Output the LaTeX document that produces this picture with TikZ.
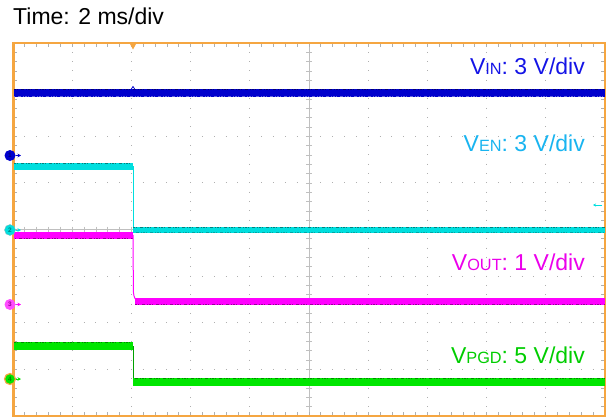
\documentclass[tikz,border=0pt]{standalone}
\usepackage{fontspec}
\setmainfont{Liberation Sans}
\usetikzlibrary{arrows.meta}

\definecolor{scopeorange}{RGB}{245,166,65}
\definecolor{griddot}{RGB}{175,175,175}
\definecolor{vinblue}{RGB}{0,0,205}
\definecolor{vindark}{RGB}{0,0,120}
\definecolor{vinlab}{RGB}{20,20,230}
\definecolor{vencyan}{RGB}{0,222,222}
\definecolor{vendark}{RGB}{0,128,128}
\definecolor{venlab}{RGB}{25,180,240}
\definecolor{voutmag}{RGB}{255,0,255}
\definecolor{voutdark}{RGB}{150,0,150}
\definecolor{voutlab}{RGB}{235,0,235}
\definecolor{vpgdgreen}{RGB}{0,230,0}
\definecolor{vpgddark}{RGB}{0,140,0}
\definecolor{vpgdlab}{RGB}{0,205,0}

\newcommand{\subtxt}[1]{{\fontsize{16.3}{18}\selectfont #1}}

\tikzset{
  gridtick/.style={griddot, line width=0.7pt},
  centerline/.style={griddot!80!white, line width=0.7pt},
  noise/.style={line width=1pt, dash pattern=on 2pt off 1pt on 1pt off 3pt on 3pt off 2pt on 1pt off 1pt},
}

\begin{document}
\begin{tikzpicture}[x=1pt, y=-1pt,
    trace/.style={line width=0.8pt},
    label/.style={anchor=base east, inner sep=0pt, font=\fontsize{23}{27}\selectfont},
    chmark/.style={circle, inner sep=0pt, minimum size=11pt, font=\fontsize{6.5}{6.5}\selectfont\bfseries},
    marktip/.style={line width=0.9pt, -{Stealth[length=3.5pt,width=3.5pt]}}]

    \useasboundingbox (0,0) rectangle (609,417);

    % draw dotted graticule
    \foreach \i in {1,...,9}
        \draw[griddot, line width=1pt, dash pattern=on 1pt off 8.325pt, dash phase=0.5pt] (13+\i*59.2,43) -- (13+\i*59.2,416);
    \foreach \j in {1,...,7}
        \draw[griddot, line width=1pt, dash pattern=on 1pt off 10.84pt, dash phase=0.5pt] (13,43+\j*46.625) -- (605,43+\j*46.625);

    % draw center lines with minor ticks
    \draw[centerline] (309,43) -- (309,416);
    \draw[centerline] (13,229.5) -- (605,229.5);
    \foreach \j in {1,...,39}
        \draw[centerline] (306,43+\j*9.325) -- (312,43+\j*9.325);
    \foreach \i in {1,...,49}
        \draw[centerline] (13+\i*11.84,226.5) -- (13+\i*11.84,232.5);

    % draw ticks along the frame
    \foreach \i in {1,...,49} {
        \draw[gridtick] (13+\i*11.84,43) -- ++(0,4);
        \draw[gridtick] (13+\i*11.84,416) -- ++(0,-4);
    }
    \foreach \j in {1,...,39} {
        \draw[gridtick] (13,43+\j*9.325) -- ++(4,0);
        \draw[gridtick] (605,43+\j*9.325) -- ++(-4,0);
    }

    % draw frame and trigger marker
    \draw[scopeorange, line width=2pt] (13,43) rectangle (605,416);
    \draw[scopeorange, line width=3pt] (13,42) -- (13,417);
    \fill[scopeorange] (130,44) -- (136,44) -- (133,49.5) -- cycle;

    % V_IN trace
    \fill[vinblue] (14,89.5) rectangle (605,96.5);
    \draw[noise, vindark] (14,90) -- (605,90);
    \draw[noise, vinblue!60!white, dash phase=3pt] (14,96.2) -- (605,96.2);
    \draw[vinblue, trace] (131,89.5) -- (133,86.5) -- (135,89.5);

    % V_EN trace
    \fill[vencyan] (14,162.5) rectangle (133,170);
    \draw[noise, vendark] (14,163) -- (133,163);
    \draw[vencyan, trace] (133,166) -- (133,230);
    \fill[vencyan] (133,226.5) rectangle (605,233);
    \draw[noise, vendark] (133,227) -- (605,227);
    \draw[noise, vendark!60!vencyan, dash phase=4pt] (133,232.5) -- (605,232.5);

    % V_OUT trace
    \fill[voutmag] (14,232) rectangle (133,239);
    \draw[noise, voutdark, dash phase=2pt] (14,238.5) -- (133,238.5);
    \draw[voutmag, line width=1pt] (133,235) -- (133.4,292) .. controls (134,298) and (135,300) .. (139,301);
    \fill[voutmag] (135,297.5) rectangle (605,305);
    \draw[noise, voutdark] (135,304.5) -- (605,304.5);

    % V_PGD trace
    \fill[vpgdgreen] (14,342) rectangle (133,350);
    \draw[noise, vpgddark] (14,342.5) -- (133,342.5);
    \draw[vpgdgreen!70!black, trace] (133,346) -- (133,381);
    \fill[vpgdgreen] (133,377.5) rectangle (605,385.5);
    \draw[noise, vpgddark, dash phase=5pt] (133,378) -- (605,378);

    % channel markers
    \node[chmark, fill=vinblue, text=vindark] (ch1) at (10,155.5) {1};
    \draw[vinblue, marktip] (ch1.east) -- (21,155.5);
    \node[chmark, fill=vencyan, draw=vendark!50!white, text=vendark] (ch2) at (10,230) {2};
    \draw[vencyan, marktip] (ch2.east) -- (21,230);
    \node[chmark, fill=voutmag!70!white, text=voutdark] (ch3) at (10,304.5) {3};
    \draw[voutmag, marktip] (ch3.east) -- (21,304.5);
    \node[chmark, fill=vpgdgreen, draw=scopeorange, line width=1.2pt, text=vpgddark] (ch4) at (10,379) {4};
    \draw[vpgdgreen, marktip] (ch4.east) -- (21,379);
    \coordinate (trigtail) at (602,205);
    \draw[vencyan, -{Stealth[length=3pt,width=3pt]}] (trigtail) -- (593,205);

    % place labels
    \node[anchor=base west, inner sep=0pt, font=\fontsize{23}{27}\selectfont] (timelabel) at (13,25) {Time: 2 ms/div};
    \node[label, text=vinlab] (vinlabel) at (585,75) {V\subtxt{IN}: 3 V/div};
    \node[label, text=venlab] (venlabel) at (585,151.5) {V\subtxt{EN}: 3 V/div};
    \node[label, text=voutlab] (voutlabel) at (585,270) {V\subtxt{OUT}: 1 V/div};
    \node[label, text=vpgdlab] (vpgdlabel) at (585,363) {V\subtxt{PGD}: 5 V/div};
\end{tikzpicture}
\end{document}
